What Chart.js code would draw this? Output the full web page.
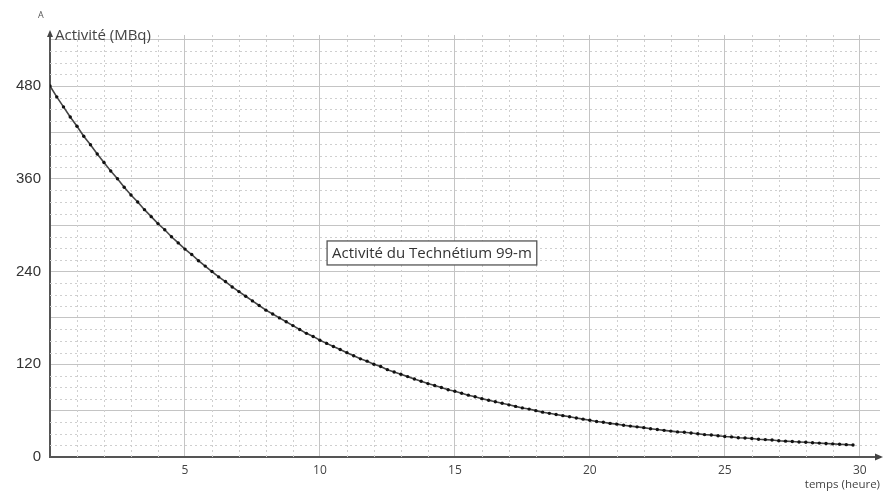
<!DOCTYPE html>
<html>
<head>
<meta charset="utf-8">
<script src="https://cdn.jsdelivr.net/npm/chart.js@4/dist/chart.umd.min.js"></script>
<style>
	html, body { margin: 0; padding: 0; background: #fff; }
	#wrap { width: 884px; height: 492px; }
</style>
</head>
<body>
<div id="wrap"><canvas id="chart" width="884" height="492"></canvas></div>
<script>
// Activity, one reading every quarter hour (MBq)
const STEP_HOURS = 0.25;
const activity = [
	480, 466, 453, 440, 428, 415, 404, 392,
	381, 370, 360, 349, 339, 330, 320, 311,
	302, 294, 285, 277, 269, 262, 254, 247,
	240, 233, 227, 220, 214, 208, 202, 196,
	190, 185, 180, 175, 170, 165, 160, 156,
	151, 147, 143, 139, 135, 131, 127, 124,
	120, 117, 113, 110, 107, 104, 101, 98,
	95, 92.5, 90, 87, 85, 82.5, 80, 78,
	75.5, 73.5, 71.5, 69.5, 67.5, 65.5, 63.5, 62,
	60, 58, 56.5, 55, 53.5, 52, 50.5, 49,
	47.5, 46, 45, 43.5, 42.5, 41, 40, 39,
	38, 36.5, 35.5, 34.5, 33.5, 32.5, 32, 31,
	30, 29, 28.5, 27.5, 26.5, 26, 25, 24.5,
	24, 23, 22.5, 22, 21, 20.5, 20, 19.5,
	19, 18.5, 18, 17.5, 17, 16.5, 16, 15.5
];
const times = activity.map((_, i) => i * STEP_HOURS);

const xLabels = [5, 10, 15, 20, 25, 30];
const yLabels = [0, 120, 240, 360, 480];

const yTitle = "Activité (MBq)";
const xTitle = "temps (heure)";
const seriesName = "Activité du Technétium 99-m";
const boxAt = { x: 14.15, y: 264 };

const near = (v, step) => Math.abs(v / step - Math.round(v / step)) < 1e-6;

// Dotted minor grid, drawn on the library's tick positions
const minorGrid = {
	id: "minorGrid",
	beforeDatasetsDraw(chart) {
		const { ctx, chartArea, scales } = chart;
		const { left, right, top, bottom } = chartArea;
		ctx.save();
		ctx.strokeStyle = "#cfcfcf";
		ctx.lineWidth = 1;
		ctx.setLineDash([2, 3]);
		scales.x.ticks.forEach((t) => {
			if (!near(t.value, 1) || near(t.value, 5) || t.value === 0) return;
			const px = Math.round(scales.x.getPixelForValue(t.value)) + 0.5;
			ctx.beginPath();
			ctx.moveTo(px, top);
			ctx.lineTo(px, bottom);
			ctx.stroke();
		});
		scales.y.ticks.forEach((t) => {
			if (!near(t.value, 15) || near(t.value, 60) || t.value === 0) return;
			const py = Math.round(scales.y.getPixelForValue(t.value)) + 0.5;
			ctx.beginPath();
			ctx.moveTo(left, py);
			ctx.lineTo(right, py);
			ctx.stroke();
		});
		ctx.restore();
	},
};

// Arrows, axis titles and the boxed caption
const decorations = {
	id: "decorations",
	afterDraw(chart) {
		const { ctx, chartArea, scales } = chart;
		const { left, right, top, bottom } = chartArea;
		ctx.save();
		ctx.fillStyle = "#444";

		// arrow on the y axis
		ctx.beginPath();
		ctx.moveTo(left, top - 5);
		ctx.lineTo(left - 3, top + 2);
		ctx.lineTo(left + 3, top + 2);
		ctx.closePath();
		ctx.fill();

		// arrow on the x axis
		ctx.beginPath();
		ctx.moveTo(right + 3, bottom);
		ctx.lineTo(right - 5, bottom - 3.5);
		ctx.lineTo(right - 5, bottom + 3.5);
		ctx.closePath();
		ctx.fill();

		ctx.fillStyle = "#555";
		ctx.textBaseline = "alphabetic";
		ctx.font = "9px 'Open Sans'";
		ctx.textAlign = "left";
		ctx.fillText("A", left - 12, 18);

		ctx.font = "15px 'Open Sans'";
		ctx.fillStyle = "#444";
		ctx.fillText(yTitle, left + 5, top + 5);

		ctx.font = "11.5px 'Open Sans'";
		ctx.textAlign = "right";
		ctx.fillText(xTitle, right, bottom + 31);

		// caption box
		const cx = scales.x.getPixelForValue(boxAt.x);
		const cy = scales.y.getPixelForValue(boxAt.y);
		ctx.font = "15px 'Open Sans'";
		const w = ctx.measureText(seriesName).width + 10;
		const h = 24;
		ctx.fillStyle = "#fff";
		ctx.fillRect(cx - w / 2, cy - h / 2, w, h);
		ctx.strokeStyle = "#555";
		ctx.lineWidth = 1.3;
		ctx.strokeRect(cx - w / 2, cy - h / 2, w, h);
		ctx.fillStyle = "#333";
		ctx.textAlign = "center";
		ctx.textBaseline = "middle";
		ctx.fillText(seriesName, cx, cy + 1);
		ctx.restore();
	},
};

new Chart(document.getElementById("chart"), {
	type: "line",
	data: {
		datasets: [{
			label: seriesName,
			data: times.map((t, i) => ({ x: t, y: activity[i] })),
			borderColor: "#444",
			borderWidth: 1.6,
			pointRadius: 1.7,
			pointBackgroundColor: "#111",
			pointBorderWidth: 0,
			tension: 0,
		}],
	},
	options: {
		responsive: false,
		animation: false,
		layout: { padding: { top: 35, right: 4, left: 0, bottom: 0 } },
		plugins: {
			legend: { display: false },
			tooltip: { enabled: false },
		},
		scales: {
			x: {
				type: "linear",
				min: 0,
				max: 30.75,
				afterFit: (s) => { s.height = 35; },
				ticks: {
					stepSize: 1,
					includeBounds: false,
					autoSkip: false,
					maxRotation: 0,
					padding: 6,
					color: "#444",
					font: { family: "'Open Sans'", size: 12 },
					callback: (v) => {
						const r = Math.round(v);
						return near(v, 1) && xLabels.includes(r) ? String(r) : "";
					},
				},
				grid: {
					drawTicks: false,
					lineWidth: 1,
					color: (c) => {
						const v = c.tick.value;
						return near(v, 5) && v !== 0 ? "#c4c4c4" : "rgba(0,0,0,0)";
					},
				},
				border: { color: "#555", width: 2 },
			},
			y: {
				min: 0,
				max: 546,
				afterFit: (s) => { s.width = 50; },
				ticks: {
					stepSize: 15,
					includeBounds: false,
					maxTicksLimit: 100,
					autoSkip: false,
					padding: 9,
					color: "#333",
					font: { family: "'Liberation Sans'", size: 15 },
					callback: (v) => (yLabels.includes(v) ? String(v) : ""),
				},
				grid: {
					drawTicks: false,
					lineWidth: 1,
					color: (c) => {
						const v = c.tick.value;
						return near(v, 60) && v !== 0 ? "#c4c4c4" : "rgba(0,0,0,0)";
					},
				},
				border: { color: "#555", width: 2 },
			},
		},
	},
	plugins: [minorGrid, decorations],
});
</script>
</body>
</html>
